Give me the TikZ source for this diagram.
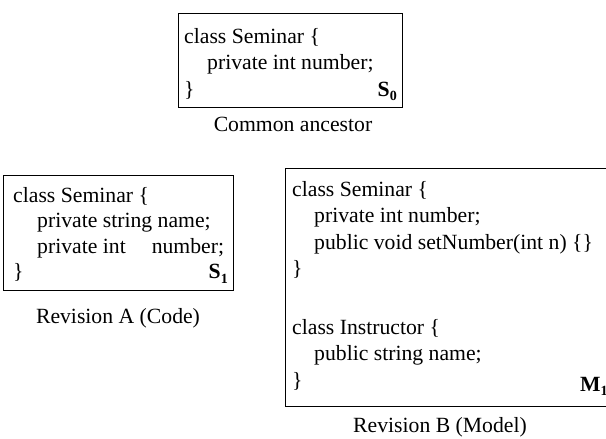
\documentclass[tikz,border=0pt]{standalone}
\usepackage{fontspec}
\setmainfont{Liberation Serif}
\begin{document}
\begin{tikzpicture}[x=1pt,y=-1pt,
  codebox/.style={draw=black, line width=1pt, inner sep=0pt, outer sep=0pt, anchor=north west},
  codeline/.style={anchor=base west, inner sep=0pt, font=\fontsize{21.7}{26}\selectfont},
  caption/.style={anchor=base, inner sep=0pt, font=\fontsize{21.7}{26}\selectfont},
  revlabel/.style={anchor=base east, inner sep=0pt, font=\fontsize{21.7}{26}\selectfont\bfseries}]
\clip (0,0) rectangle (606,439);
\fill[white] (0,0) rectangle (606,439);
\newcommand{\revsub}[2]{#1\raisebox{-4.5pt}{\fontsize{14}{14}\selectfont\bfseries #2}}
% Common ancestor
\node[codebox, minimum width=224pt, minimum height=94pt] (s0box) at (178,13) {};
\node[codeline] (s0l1) at (184,43) {class Seminar \{};
\node[codeline] (s0l2) at (207,69.5) {private int number;};
\node[codeline] (s0l3) at (184,96) {\}};
\node[revlabel] (s0lab) at (397,96) {\revsub{S}{0}};
\node[caption] (s0cap) at (293,131) {Common ancestor};
% Revision A
\node[codebox, minimum width=230pt, minimum height=115pt] (s1box) at (3,175) {};
\node[codeline] (s1l1) at (13,202) {class Seminar \{};
\node[codeline] (s1l2) at (37,227.5) {private string name;};
\node[codeline] (s1l3) at (37,253) {private int\hspace{26pt}number;};
\node[codeline] (s1l4) at (13,278.5) {\}};
\node[revlabel] (s1lab) at (228,278.5) {\revsub{S}{1}};
\node[caption] (s1cap) at (118,323) {Revision A (Code)};
% Revision B
\node[codebox, minimum width=330pt, minimum height=238pt] (mbox) at (285,168) {};
\node[codeline] (ml1) at (292,196) {class Seminar \{};
\node[codeline] (ml2) at (314,222.5) {private int number;};
\node[codeline] (ml3) at (314,249) {public void setNumber(int n) \{\}};
\node[codeline] (ml4) at (292,275.5) {\}};
\node[codeline] (ml6) at (292,334) {class Instructor \{};
\node[codeline] (ml7) at (314,360.5) {public string name;};
\node[codeline] (ml8) at (292,387) {\}};
\node[revlabel, anchor=base west] (mlab) at (580,391) {\revsub{M}{1}};
\node[caption] (mcap) at (440,432) {Revision B (Model)};
\end{tikzpicture}
\end{document}
